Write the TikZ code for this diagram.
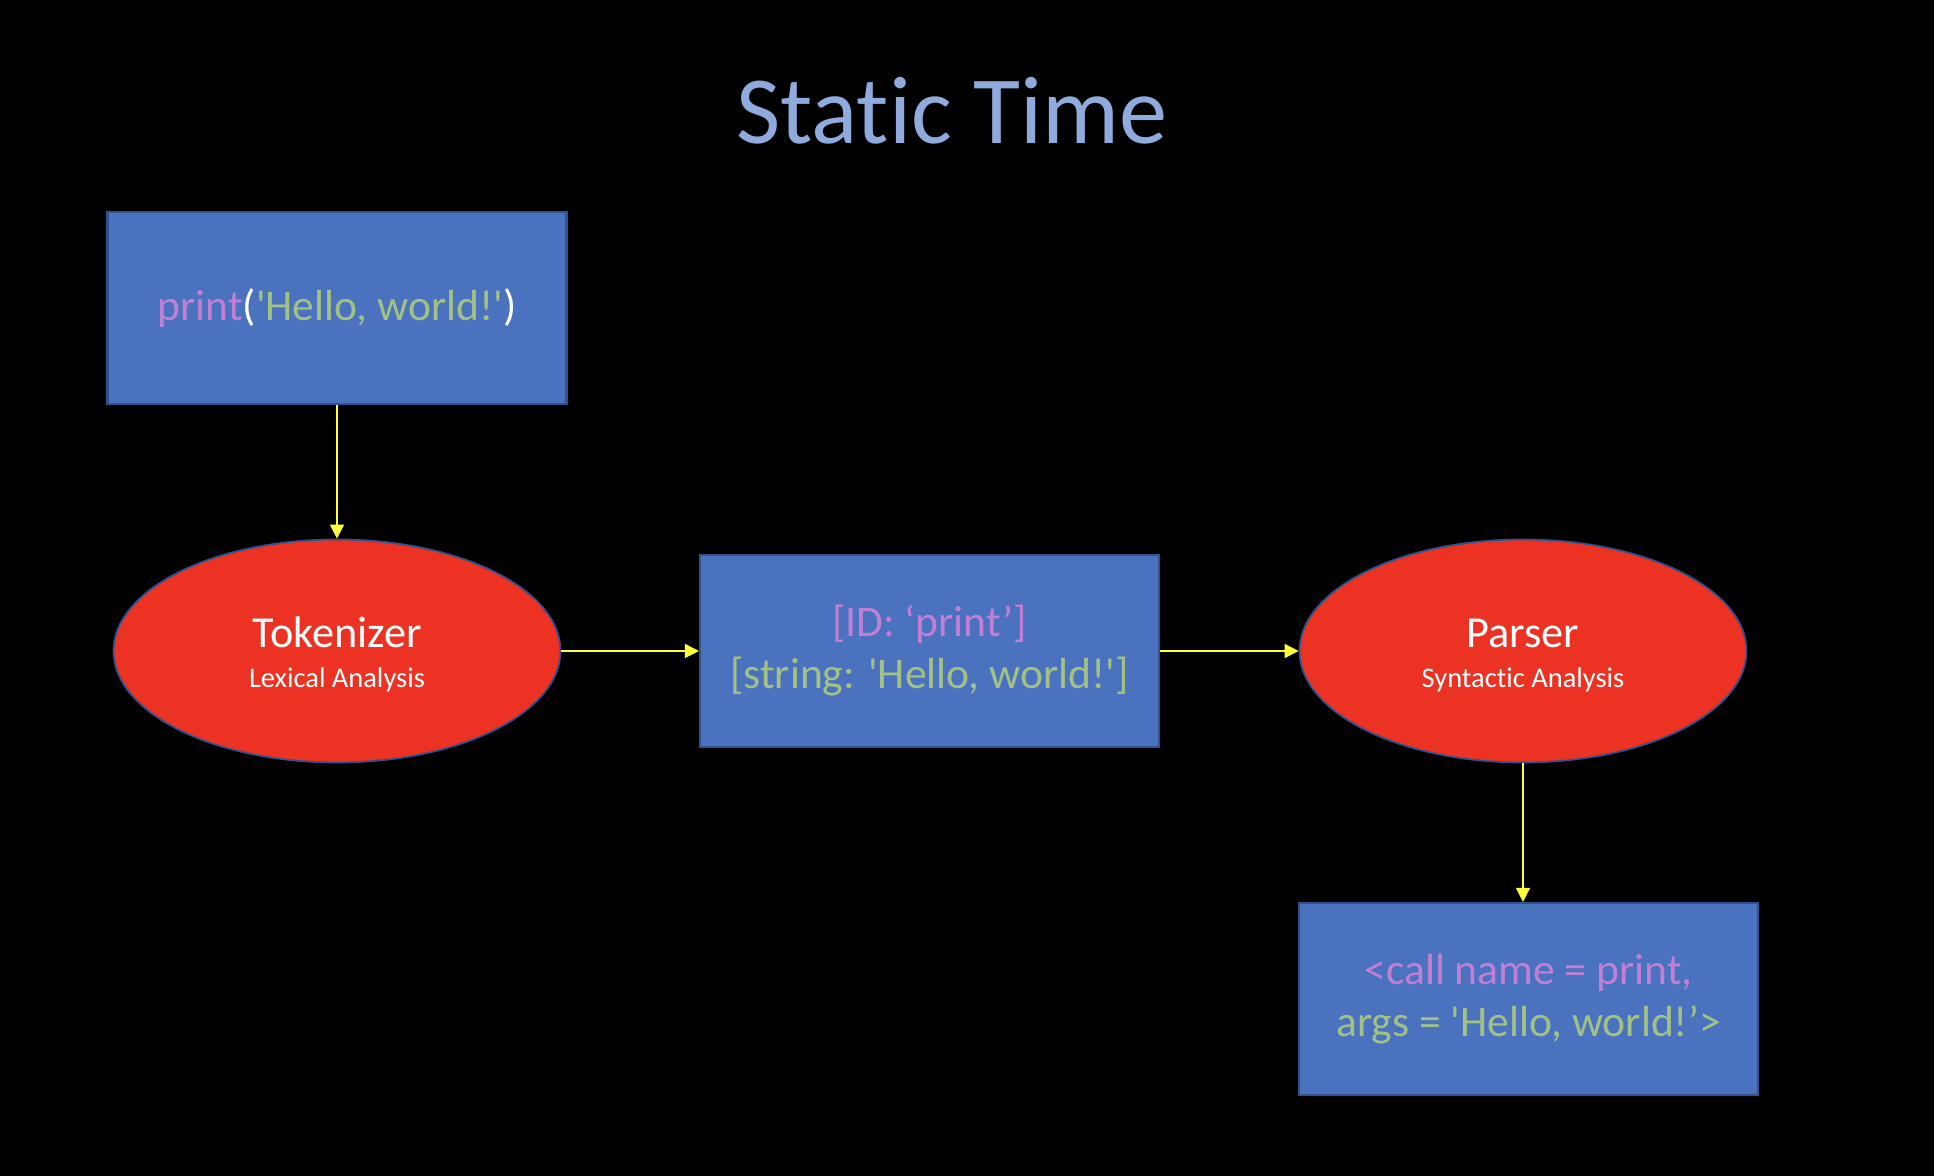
\documentclass[tikz,border=0pt]{standalone}
\usepackage{fontspec}
\setmainfont{Carlito}[Ligatures={NoCommon}]
\usepackage{xcolor}
\usepackage{tikz}
\usetikzlibrary{shapes,arrows,positioning,calc,arrows.meta}

\definecolor{boxblue}{HTML}{4A72BE}
\definecolor{boxedge}{HTML}{2F528F}
\definecolor{stagered}{HTML}{EB3223}
\definecolor{kwpurple}{HTML}{C27FD4}
\definecolor{strgreen}{HTML}{A2C182}
\definecolor{titleblue}{HTML}{8FAADC}
\definecolor{flowyellow}{HTML}{FFFF3C}

\newcommand{\sq}{\textquotesingle}

\begin{document}
\begin{tikzpicture}[
    codebox/.style={rectangle, draw=boxedge, line width=0.6pt, fill=boxblue, minimum width=4.59cm, minimum height=1.92cm, align=center, font=\fontsize{12.4}{14.8}\selectfont},
    stage/.style={ellipse, draw=boxedge, line width=0.5pt, fill=stagered, minimum width=4.47cm, minimum height=2.23cm, inner sep=0pt, align=center, text=white, font=\fontsize{8.1}{11.4}\selectfont},
    flow/.style={draw=flowyellow, line width=0.4pt, -{Triangle[length=0.14cm, width=0.14cm]}}
]
    % Background
    \fill[black] (0,0) rectangle (19.34,11.76);
    \useasboundingbox (0,0) rectangle (19.34,11.76);

    % Title
    \node[text=titleblue, font=\fontsize{27.4}{33}\selectfont] (title) at (9.52,10.65) {Static Time};

    % Source code
    \node[codebox] (code) at (3.37,8.68) {\textcolor{kwpurple}{print}\textcolor{white}{(}\textcolor{strgreen}{\sq Hello, world!\sq}\textcolor{white}{)}};

    % Stages and results
    \node[stage] (tokenizer) at (3.37,5.25) {\rule{0pt}{10.8pt}{\fontsize{12.6}{11.4}\selectfont Tokenizer}\\Lexical Analysis};
    \node[codebox] (tokens) at (9.295,5.25) {\textcolor{kwpurple}{[ID: ‘print’]}\\\textcolor{strgreen}{[string: \sq Hello, world!\sq]}};
    \node[stage] (parser) at (15.23,5.25) {\rule{0pt}{10.8pt}{\fontsize{12.6}{11.4}\selectfont Parser}\\Syntactic Analysis};
    \node[codebox] (ast) at (15.285,1.77) {\textcolor{kwpurple}{<call name = print,}\\\textcolor{strgreen}{args = \sq Hello, world!’>}};

    % Flow
    \draw[flow] (code) -- (tokenizer);
    \draw[flow] (tokenizer) -- (tokens);
    \draw[flow] (tokens) -- (parser);
    \draw[flow] (parser.south) -- (parser.south |- ast.north);
\end{tikzpicture}
\end{document}
